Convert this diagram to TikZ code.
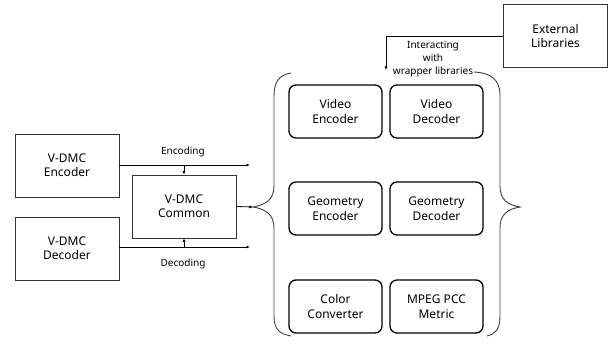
\documentclass[tikz,border=0pt]{standalone}
\usepackage{fontspec}
\setmainfont{Noto Sans}
\usetikzlibrary{arrows.meta}
\begin{document}
\begin{tikzpicture}[x=1pt,y=-1pt,
  plainbox/.style={draw=black!80,line width=0.8pt,minimum width=104pt,minimum height=63pt,
    align=center,font=\fontsize{12}{14}\selectfont,inner sep=0pt},
  modbox/.style={draw=black,line width=1.3pt,rounded corners=7pt,minimum width=93pt,minimum height=53pt,
    align=center,font=\fontsize{12}{15}\selectfont,inner sep=0pt},
  lbl/.style={align=center,font=\fontsize{10}{13}\selectfont,inner sep=0pt},
  conn/.style={draw=black,line width=0.8pt,-{Latex[length=3.5pt,width=3pt]}},
  brace/.style={draw=black!75,line width=0.9pt}]
\useasboundingbox (0,0) rectangle (610,347);

% left-hand blocks
\node[plainbox] (enc) at (67,165.5) {V-DMC\\Encoder};
\node[plainbox] (dec) at (67,248.5) {V-DMC\\Decoder};
\node[plainbox] (common) at (184,206.5) {V-DMC\\Common};
\node[plainbox] (ext) at (555.5,36) {External\\Libraries};

% library modules
\node[modbox] (ve) at (335.5,111.5) {Video\\Encoder};
\node[modbox] (vd) at (436.5,111.5) {Video\\Decoder};
\node[modbox] (ge) at (335.5,208.5) {Geometry\\Encoder};
\node[modbox] (gd) at (436.5,208.5) {Geometry\\Decoder};
\node[modbox] (cc) at (335.5,306.5) {Color\\Converter};
\node[modbox] (mp) at (436.5,306.5) {MPEG PCC\\Metric};

% braces around the modules
\coordinate (ltip) at (253,207);
\coordinate (rtip) at (520,207);
\draw[brace] (291,73) .. controls (279,75) and (274,82) .. (274,96)
  -- (274,186) .. controls (274,200) and (265,205) .. (ltip)
  .. controls (265,209) and (274,214) .. (274,228)
  -- (274,316) .. controls (274,330) and (280,334) .. (291,336);
\draw[brace] (474,72) .. controls (492,73) and (500,80) .. (500,96)
  -- (500,186) .. controls (500,200) and (508,205) .. (rtip)
  .. controls (508,209) and (500,214) .. (500,228)
  -- (500,316) .. controls (500,330) and (495,334) .. (487,336);

% encoding / decoding paths
\coordinate (encend) at (250,165);
\coordinate (decend) at (250,247);
\draw[conn] (enc.east |- encend) -- (encend);
\draw[conn] (dec.east |- decend) -- (decend);
\draw[conn] (common.north |- encend) -- (common.north);
\draw[conn] (common.south |- decend) -- (common.south);
\draw[conn] (common.east) -- (ltip);
\node[lbl] (enclbl) at (183,152) {Encoding};
\node[lbl] (declbl) at (183,264) {Decoding};

% external libraries
\coordinate (extin) at (386,70);
\draw[conn] (ext.west) -| (extin);
\node[lbl] (extlbl) at (433,59) {Interacting\\with\\wrapper libraries};
\end{tikzpicture}
\end{document}
